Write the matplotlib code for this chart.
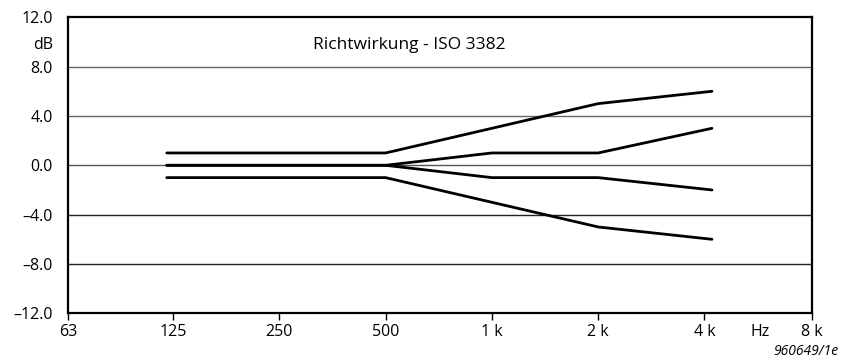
import matplotlib

matplotlib.use("Agg")
import matplotlib.pyplot as plt
from matplotlib.ticker import FixedLocator, NullLocator

plt.rcParams["font.family"] = ["Open Sans", "DejaVu Sans"]

# Tolerance limits for directivity (ISO 3382), dB vs. frequency in Hz
freqs = [120, 500, 1000, 2000, 4200]
upper_outer = [1, 1, 3, 5, 6]
upper_inner = [0, 0, 1, 1, 3]
lower_inner = [0, 0, -1, -1, -2]
lower_outer = [-1, -1, -3, -5, -6]

x_ticks = [63, 125, 250, 500, 1000, 2000, 4000, 8000]
x_labels = ["63", "125", "250", "500", "1 k", "2 k", "4 k", "8 k"]
y_ticks = [-12, -8, -4, 0, 4, 8, 12]
y_labels = ["\u201312.0", "\u20138.0", "\u20134.0", "0.0", "4.0", "8.0", "12.0"]
grid_levels = [-8, -4, 0, 4, 8]
grid_colors = ["#222222", "#222222", "#555555", "#666666", "#666666"]

fig = plt.figure(figsize=(8.54, 3.6), dpi=100)
ax = fig.add_axes([0.0796, 0.1297, 0.8712, 0.8223])
ax.set_xscale("log", base=2)
ax.set_xlim(63, 8000 * 63 / 62.5)
ax.set_ylim(-12, 12)

for lvl, col in zip(grid_levels, grid_colors):
    ax.axhline(lvl, color=col, lw=1.0, zorder=1)

for series in (upper_outer, upper_inner, lower_inner, lower_outer):
    ax.plot(freqs, series, color="black", lw=2.0, solid_capstyle="round", zorder=3)

ax.xaxis.set_major_locator(FixedLocator([t * 63 / 62.5 if t == 8000 else t for t in x_ticks]))
ax.set_xticklabels(x_labels)
ax.xaxis.set_minor_locator(NullLocator())
ax.set_yticks(y_ticks)
ax.set_yticklabels(y_labels)
ax.tick_params(axis="x", direction="out", length=5, width=1, labelsize=11.5, pad=3)
ax.tick_params(axis="y", length=0, labelsize=11.5, pad=11)
for spine in ax.spines.values():
    spine.set_linewidth(1.6)

ax.text(-0.02, 0.905, "dB", transform=ax.transAxes, ha="right", va="center", fontsize=11.5)
ax.text(0.93, -0.064, "Hz", transform=ax.transAxes, ha="center", va="center", fontsize=11.5)
ax.text(0.329, 0.905, "Richtwirkung - ISO 3382", transform=ax.transAxes, ha="left",
        va="center", fontsize=12.5)
fig.text(0.982, 0.003, "960649/1e", ha="right", va="bottom", fontsize=10, style="italic")

fig.savefig("out.png", dpi=100)
